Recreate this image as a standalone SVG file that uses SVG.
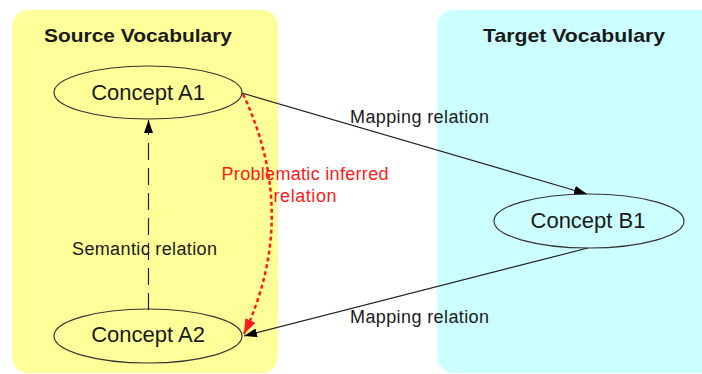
<svg xmlns="http://www.w3.org/2000/svg" width="702" height="374" viewBox="0 0 702 374">
<style>
.txt{font-family:"Liberation Sans",Arial,sans-serif;fill:#1a1a1a}
.title{font-size:19px;font-weight:bold;text-anchor:middle}
.node{fill:none;stroke:#333;stroke-width:1.2}
.lbl{font-size:22px;text-anchor:middle}
.elbl{font-size:18px}
.red{fill:#ff1a1a;text-anchor:middle}
.conn{fill:none;stroke:#222;stroke-width:1.2}
</style>
<defs>
<marker id="ah" markerUnits="userSpaceOnUse" markerWidth="14" markerHeight="10" refX="13" refY="4.5" orient="auto" viewBox="0 0 14 10">
<path d="M0,0 L13,4.5 L0,9 z" fill="#000"/>
</marker>
<marker id="ahr" markerUnits="userSpaceOnUse" markerWidth="16" markerHeight="12" refX="15" refY="5.5" orient="auto" viewBox="0 0 16 12">
<path d="M0,0 L15,5.5 L0,11 z" fill="#ff1a1a"/>
</marker>
</defs>
<g id="source-vocabulary">
<rect x="12" y="10" width="266" height="363" rx="16" fill="#ffff99"/>
<text class="txt title" x="138" y="42" textLength="188" lengthAdjust="spacingAndGlyphs">Source Vocabulary</text>
</g>
<g id="target-vocabulary">
<rect x="437" y="10" width="320" height="363" rx="16" fill="#ccffff"/>
<text class="txt title" x="574" y="42" textLength="182" lengthAdjust="spacingAndGlyphs">Target Vocabulary</text>
</g>
<g id="connectors">
<path class="conn" d="M242,93 L587,194" marker-end="url(#ah)"/>
<path class="conn" d="M588,248 L244,336" marker-end="url(#ah)"/>
<path class="conn" d="M148.5,310 L148.5,120" stroke-dasharray="17,8" marker-end="url(#ah)"/>
<path d="M243,94 Q300,215 244,334" fill="none" stroke="#ff1a1a" stroke-width="2.5" stroke-dasharray="4,3" marker-end="url(#ahr)"/>
<text class="txt elbl" x="350" y="123" textLength="139">Mapping relation</text>
<text class="txt elbl" x="350" y="323" textLength="139">Mapping relation</text>
<text class="txt elbl" x="72" y="255" textLength="145">Semantic relation</text>
<text class="txt elbl red" x="305" y="180" textLength="167">Problematic inferred</text>
<text class="txt elbl red" x="305" y="202" textLength="63">relation</text>
</g>
<g id="concept-a1">
<ellipse class="node" cx="148" cy="92.5" rx="94" ry="26.5"/>
<text class="txt lbl" x="148" y="100">Concept A1</text>
</g>
<g id="concept-a2">
<ellipse class="node" cx="148" cy="336" rx="94" ry="27"/>
<text class="txt lbl" x="148" y="342">Concept A2</text>
</g>
<g id="concept-b1">
<ellipse class="node" cx="589" cy="221" rx="95" ry="27"/>
<text class="txt lbl" x="588" y="228">Concept B1</text>
</g>
</svg>
